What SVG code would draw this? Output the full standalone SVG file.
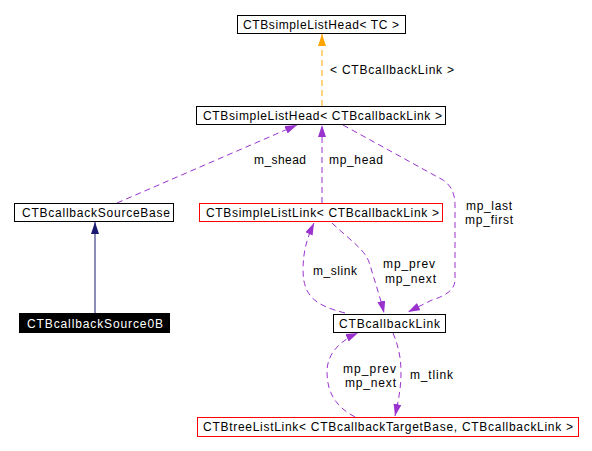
<svg xmlns="http://www.w3.org/2000/svg" width="592" height="451" viewBox="0 0 592 451">
<style>
text{font-family:"Liberation Sans",Arial,Helvetica,sans-serif;font-size:12px;fill:#000}
.box{fill:#fff;stroke:#000;stroke-width:1}
.red{fill:#fff;stroke:#ff0000;stroke-width:1}
.blk{fill:#000;stroke:#000;stroke-width:1}
.wt{fill:#fff}
.use{fill:none;stroke:#9a32cd;stroke-width:1;stroke-dasharray:6,4}
.tmpl{fill:none;stroke:#ffa500;stroke-width:1;stroke-dasharray:6,4}
.inh{fill:none;stroke:#191970;stroke-width:1}
</style>
<defs>
<marker id="ap" markerUnits="userSpaceOnUse" markerWidth="13" markerHeight="9" refX="12" refY="4" orient="auto"><path d="M0,0 L12,4 L0,8 z" fill="#9a32cd"/></marker>
<marker id="ao" markerUnits="userSpaceOnUse" markerWidth="13" markerHeight="9" refX="12" refY="4" orient="auto"><path d="M0,0 L12,4 L0,8 z" fill="#ffa500"/></marker>
<marker id="an" markerUnits="userSpaceOnUse" markerWidth="13" markerHeight="9" refX="12" refY="4" orient="auto"><path d="M0,0 L12,4 L0,8 z" fill="#191970"/></marker>
</defs>
<rect width="592" height="451" fill="#fff"/>
<g id="connectors">
<path class="tmpl" d="M322,106 L322,34" marker-end="url(#ao)"/>
<path class="use" d="M117,203 L297,125" marker-end="url(#ap)"/>
<path class="use" d="M322,203 L322,125" marker-end="url(#ap)"/>
<path class="use" d="M343,125 L443,180 Q455,188 455,205 L455,280 Q455,293 432,300 L408,312" marker-end="url(#ap)"/>
<path class="use" d="M345,313 C318,306 303,298 303,270 C303,250 308,236 314,223" marker-end="url(#ap)"/>
<path class="use" d="M332,223 C352,242 366,250 370,265 C375,282 381,300 384,313" marker-end="url(#ap)"/>
<path class="use" d="M355,417 C338,408 327,395 327,372 C327,352 342,340 358,333" marker-end="url(#ap)"/>
<path class="use" d="M393,333 C398,345 401,357 401,372 C401,390 398,402 395,416" marker-end="url(#ap)"/>
<path class="inh" d="M95,313 L95,222" marker-end="url(#an)"/>
<text x="330" y="74" textLength="124" lengthAdjust="spacing">&lt; CTBcallbackLink &gt;</text>
<text x="254" y="164" textLength="52" lengthAdjust="spacing">m_shead</text>
<text x="329" y="164" textLength="54" lengthAdjust="spacing">mp_head</text>
<text x="466" y="210" textLength="46" lengthAdjust="spacing">mp_last</text>
<text x="465" y="224" textLength="48" lengthAdjust="spacing">mp_first</text>
<text x="313" y="275" textLength="44" lengthAdjust="spacing">m_slink</text>
<text x="383" y="268" textLength="52" lengthAdjust="spacing">mp_prev</text>
<text x="385" y="283" textLength="51" lengthAdjust="spacing">mp_next</text>
<text x="343" y="373" textLength="53" lengthAdjust="spacing">mp_prev</text>
<text x="345" y="387" textLength="51" lengthAdjust="spacing">mp_next</text>
<text x="410" y="379" textLength="43" lengthAdjust="spacing">m_tlink</text>
</g>
<g id="node-head-tc">
<rect class="box" x="237.5" y="15.5" width="168" height="18"/>
<text x="243" y="28.5" textLength="156" lengthAdjust="spacing">CTBsimpleListHead&lt; TC &gt;</text>
</g>
<g id="node-head-link">
<rect class="box" x="196.5" y="106.5" width="249" height="18"/>
<text x="203" y="119.5" textLength="239" lengthAdjust="spacing">CTBsimpleListHead&lt; CTBcallbackLink &gt;</text>
</g>
<g id="node-source-base">
<rect class="box" x="14.5" y="203.5" width="159" height="18"/>
<text x="22" y="216.5" textLength="148" lengthAdjust="spacing">CTBcallbackSourceBase</text>
</g>
<g id="node-simple-link">
<rect class="red" x="199.5" y="203.5" width="243" height="18"/>
<text x="206" y="216.5" textLength="233" lengthAdjust="spacing">CTBsimpleListLink&lt; CTBcallbackLink &gt;</text>
</g>
<g id="node-source0b">
<rect class="blk" x="19.5" y="313.5" width="150" height="19"/>
<text class="wt" x="27" y="327.5" textLength="136" lengthAdjust="spacing">CTBcallbackSource0B</text>
</g>
<g id="node-callback-link">
<rect class="box" x="333.5" y="314.5" width="112" height="18"/>
<text x="339" y="327.5" textLength="101" lengthAdjust="spacing">CTBcallbackLink</text>
</g>
<g id="node-tree-link">
<rect class="red" x="197.5" y="417.5" width="381" height="19"/>
<text x="203" y="431" textLength="370" lengthAdjust="spacing">CTBtreeListLink&lt; CTBcallbackTargetBase, CTBcallbackLink &gt;</text>
</g>
</svg>
